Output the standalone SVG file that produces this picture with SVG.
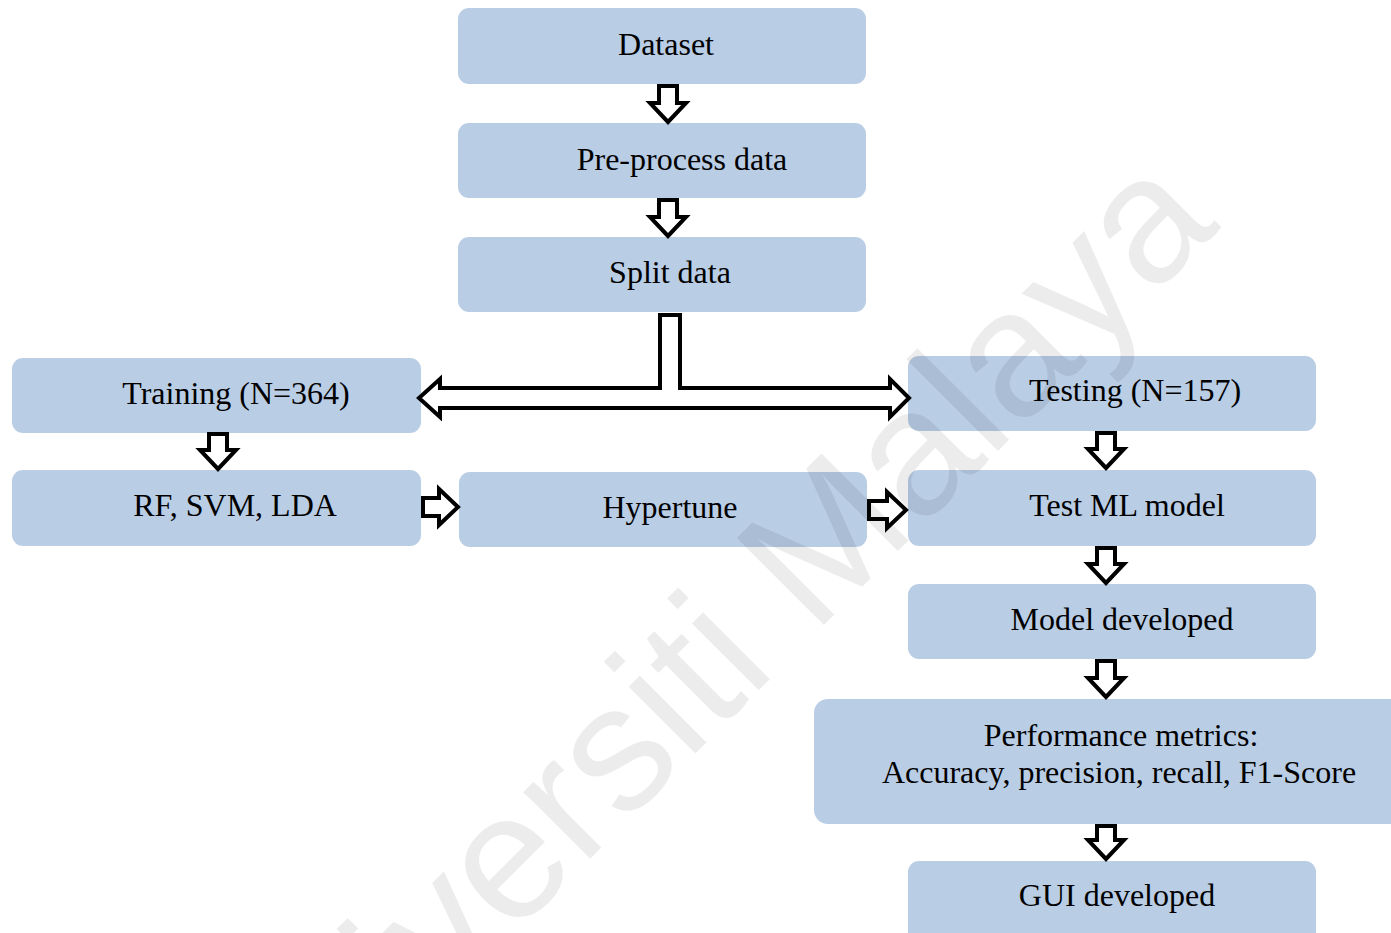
<svg xmlns="http://www.w3.org/2000/svg" width="1391" height="933" viewBox="0 0 1391 933">
<style>
.box{fill:#b9cde5;}
.lbl{font-family:"Liberation Serif","Times New Roman",serif;font-size:32px;fill:#000;text-anchor:middle;}
.arr{fill:#fff;stroke:#000;stroke-width:4;stroke-linejoin:miter;}
.wm{font-family:"Liberation Sans",Arial,sans-serif;font-size:179px;fill:#000;fill-opacity:0.075;}
</style>
<rect width="1391" height="933" fill="#fff"/>
<g id="n-dataset"><rect class="box" x="458" y="8" width="408" height="76" rx="11"/><text class="lbl" x="666" y="55">Dataset</text></g>
<g id="n-preprocess"><rect class="box" x="458" y="123" width="408" height="75" rx="11"/><text class="lbl" x="682" y="170">Pre-process data</text></g>
<g id="n-split"><rect class="box" x="458" y="237" width="408" height="75" rx="11"/><text class="lbl" x="670" y="283">Split data</text></g>
<g id="n-training"><rect class="box" x="12" y="358" width="409" height="75" rx="11"/><text class="lbl" x="236" y="404">Training (N=364)</text></g>
<g id="n-testing"><rect class="box" x="908" y="356" width="408" height="75" rx="11"/><text class="lbl" x="1135" y="401">Testing (N=157)</text></g>
<g id="n-models"><rect class="box" x="12" y="470" width="409" height="76" rx="11"/><text class="lbl" x="235" y="516">RF, SVM, LDA</text></g>
<g id="n-hypertune"><rect class="box" x="459" y="472" width="408" height="75" rx="11"/><text class="lbl" x="670" y="518">Hypertune</text></g>
<g id="n-testml"><rect class="box" x="908" y="470" width="408" height="76" rx="11"/><text class="lbl" x="1127" y="516">Test ML model</text></g>
<g id="n-modeldev"><rect class="box" x="908" y="584" width="408" height="75" rx="11"/><text class="lbl" x="1122" y="630">Model developed</text></g>
<g id="n-perf"><rect class="box" x="814" y="699" width="600" height="125" rx="14"/><text class="lbl" x="1121" y="746">Performance metrics:</text><text class="lbl" x="1119" y="783">Accuracy, precision, recall, F1-Score</text></g>
<g id="n-gui"><rect class="box" x="908" y="861" width="408" height="90" rx="11"/><text class="lbl" x="1117" y="906">GUI developed</text></g>
<g id="connectors">
<path class="arr" d="M659,86 H677 V103 H686 L668,122 L650,103 H659 Z"/>
<path class="arr" d="M659,200 H677 V217 H686 L668,236 L650,217 H659 Z"/>
<path class="arr" d="M209,434 H227 V450 H236 L218,469 L200,450 H209 Z"/>
<path class="arr" d="M1097,433 H1115 V449 H1124 L1106,468 L1088,449 H1097 Z"/>
<path class="arr" d="M1097,548 H1115 V564 H1124 L1106,583 L1088,564 H1097 Z"/>
<path class="arr" d="M1097,661 H1115 V678 H1124 L1106,697 L1088,678 H1097 Z"/>
<path class="arr" d="M1097,826 H1115 V840 H1124 L1106,859 L1088,840 H1097 Z"/>
<path class="arr" d="M423,498 H439 V489 L458,507 L439,525 V516 H423 Z"/>
<path class="arr" d="M869,501 H887 V492 L906,510 L887,528 V519 H869 Z"/>
<path class="arr" stroke-linejoin="round" d="M660,315 H680 V388 H890 V379 L909,398 L890,417 V408 H440 V417 L419,398 L440,379 V388 H660 Z"/>
</g>
<text class="wm" x="0" y="0" transform="translate(258 1191) rotate(-45)">Universiti Malaya</text>
</svg>
